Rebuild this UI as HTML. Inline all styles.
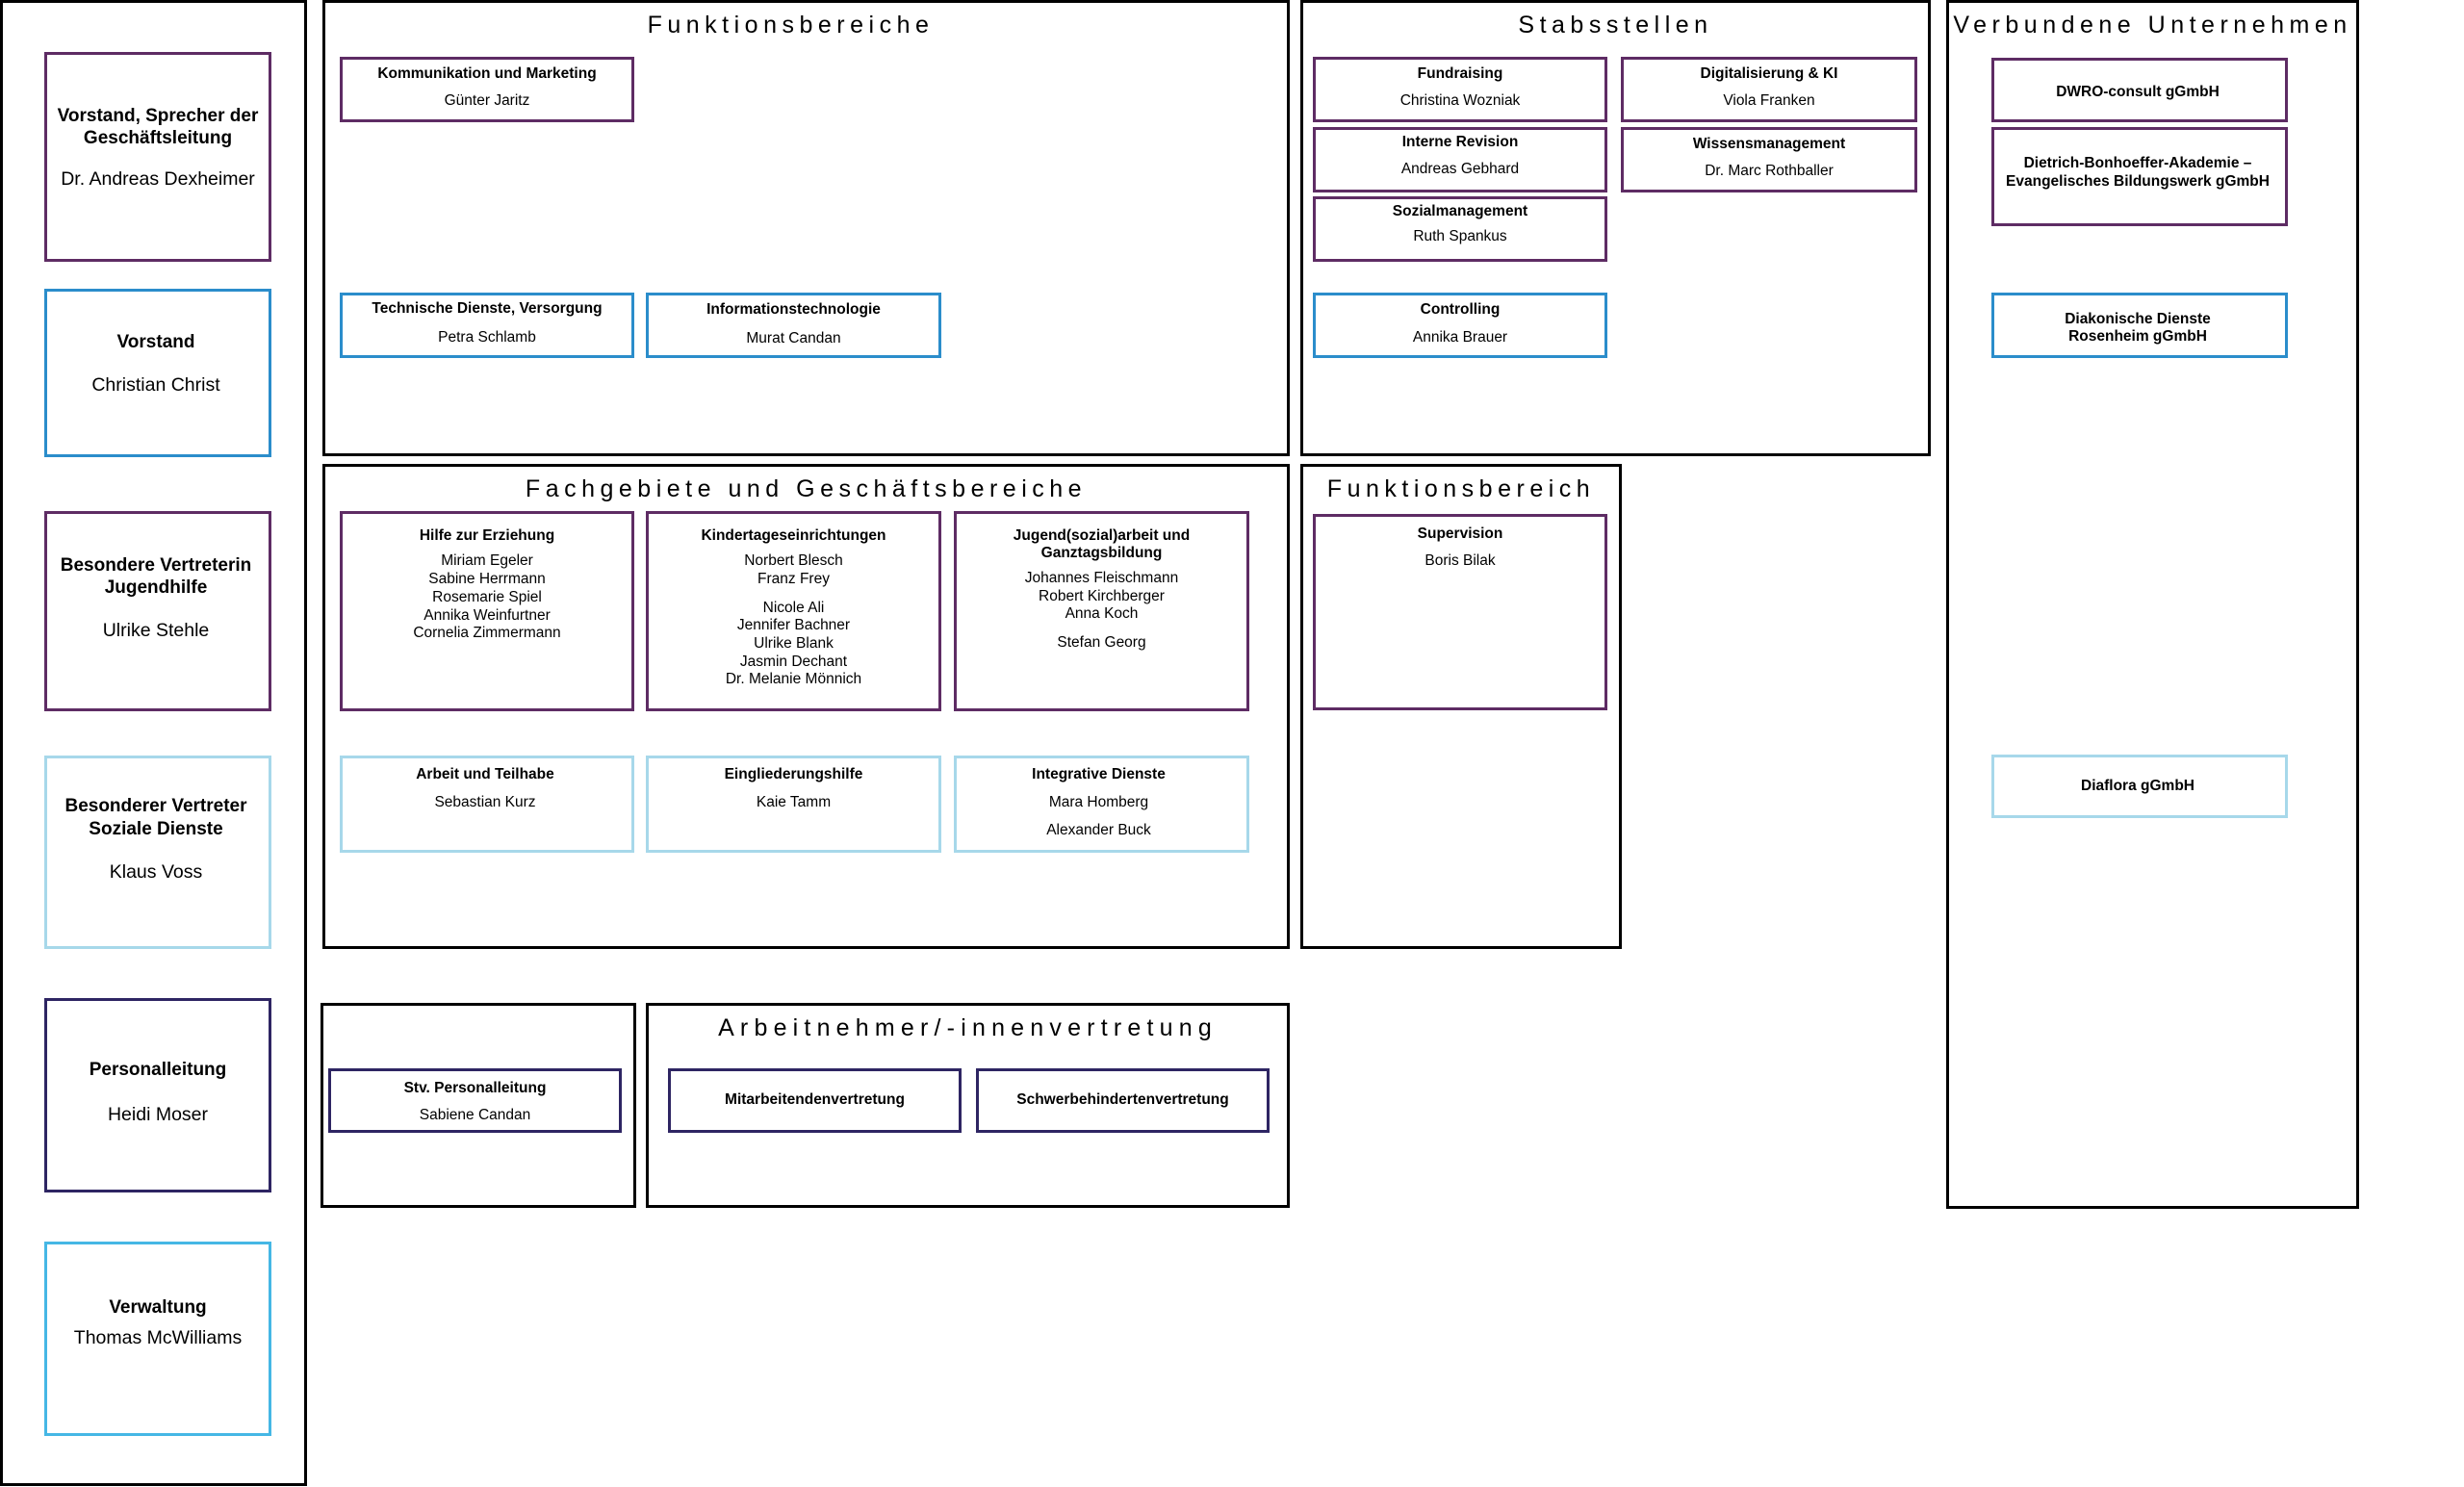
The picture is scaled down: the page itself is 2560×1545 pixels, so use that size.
<!DOCTYPE html>
<html><head><meta charset="utf-8"><style>
html,body{margin:0;padding:0;background:#fff;}
body{width:2560px;height:1545px;position:relative;overflow:hidden;font-family:"Liberation Sans",Arial,sans-serif;color:#000;}
.p{position:absolute;box-sizing:border-box;border:3px solid #000;}
.b{position:absolute;box-sizing:border-box;border:3px solid;}
.t{position:absolute;left:-10px;right:-10px;text-align:center;line-height:20px;height:20px;white-space:nowrap;font-size:15.5px;}
.h{font-weight:bold;font-size:15.5px;}
.pt{position:absolute;left:-20px;right:-20px;text-align:center;font-size:25px;letter-spacing:5.5px;line-height:30px;white-space:nowrap;}
.L{font-size:19.5px;line-height:24px;height:24px;}
.LH{font-size:19px;line-height:24px;height:24px;font-weight:bold;}
.pu{border-color:#5e2c64;}
.bl{border-color:#2b8dcb;}
.lb{border-color:#a7d8ea;}
.nv{border-color:#2e2563;}
.cy{border-color:#45b7e5;}
</style></head><body>

<!-- Left panel -->
<div class="p" style="left:0;top:0;width:319px;height:1544px;"></div>
<div class="b pu" style="left:46px;top:54px;width:236px;height:218px;">
 <div class="t LH" style="top:52px">Vorstand, Sprecher der</div>
 <div class="t LH" style="top:75px">Geschäftsleitung</div>
 <div class="t L" style="top:117px">Dr. Andreas Dexheimer</div>
</div>
<div class="b bl" style="left:46px;top:300px;width:236px;height:175px;">
 <div class="t LH" style="top:41px;left:-14px">Vorstand</div>
 <div class="t L" style="top:85px;left:-14px">Christian Christ</div>
</div>
<div class="b pu" style="left:46px;top:531px;width:236px;height:208px;">
 <div class="t LH" style="top:42px;left:-14px">Besondere Vertreterin</div>
 <div class="t LH" style="top:65px;left:-14px">Jugendhilfe</div>
 <div class="t L" style="top:109px;left:-14px">Ulrike Stehle</div>
</div>
<div class="b lb" style="left:46px;top:785px;width:236px;height:201px;">
 <div class="t LH" style="top:38px;left:-14px">Besonderer Vertreter</div>
 <div class="t LH" style="top:62px;left:-14px">Soziale Dienste</div>
 <div class="t L" style="top:106px;left:-14px">Klaus Voss</div>
</div>
<div class="b nv" style="left:46px;top:1037px;width:236px;height:202px;">
 <div class="t LH" style="top:60px">Personalleitung</div>
 <div class="t L" style="top:106px">Heidi Moser</div>
</div>
<div class="b cy" style="left:46px;top:1290px;width:236px;height:202px;">
 <div class="t LH" style="top:54px">Verwaltung</div>
 <div class="t L" style="top:85px">Thomas McWilliams</div>
</div>

<!-- Funktionsbereiche -->
<div class="p" style="left:335px;top:0;width:1005px;height:474px;">
 <div class="pt" style="top:8px;left:-52px">Funktionsbereiche</div>
</div>
<div class="b pu" style="left:353px;top:59px;width:306px;height:68px;">
 <div class="t h" style="top:5px">Kommunikation und Marketing</div>
 <div class="t" style="top:33px">Günter Jaritz</div>
</div>
<div class="b bl" style="left:353px;top:304px;width:306px;height:68px;">
 <div class="t h" style="top:4px">Technische Dienste, Versorgung</div>
 <div class="t" style="top:34px">Petra Schlamb</div>
</div>
<div class="b bl" style="left:671px;top:304px;width:307px;height:68px;">
 <div class="t h" style="top:5px">Informationstechnologie</div>
 <div class="t" style="top:35px">Murat Candan</div>
</div>

<!-- Stabsstellen -->
<div class="p" style="left:1351px;top:0;width:655px;height:474px;">
 <div class="pt" style="top:8px">Stabsstellen</div>
</div>
<div class="b pu" style="left:1364px;top:59px;width:306px;height:68px;">
 <div class="t h" style="top:5px">Fundraising</div>
 <div class="t" style="top:33px">Christina Wozniak</div>
</div>
<div class="b pu" style="left:1684px;top:59px;width:308px;height:68px;">
 <div class="t h" style="top:5px">Digitalisierung &amp; KI</div>
 <div class="t" style="top:33px">Viola Franken</div>
</div>
<div class="b pu" style="left:1364px;top:132px;width:306px;height:68px;">
 <div class="t h" style="top:3px">Interne Revision</div>
 <div class="t" style="top:31px">Andreas Gebhard</div>
</div>
<div class="b pu" style="left:1684px;top:132px;width:308px;height:68px;">
 <div class="t h" style="top:5px">Wissensmanagement</div>
 <div class="t" style="top:33px">Dr. Marc Rothballer</div>
</div>
<div class="b pu" style="left:1364px;top:204px;width:306px;height:68px;">
 <div class="t h" style="top:3px">Sozialmanagement</div>
 <div class="t" style="top:29px">Ruth Spankus</div>
</div>
<div class="b bl" style="left:1364px;top:304px;width:306px;height:68px;">
 <div class="t h" style="top:5px">Controlling</div>
 <div class="t" style="top:34px">Annika Brauer</div>
</div>

<!-- Verbundene Unternehmen -->
<div class="p" style="left:2022px;top:0;width:429px;height:1256px;">
 <div class="pt" style="top:8px">Verbundene Unternehmen</div>
</div>
<div class="b pu" style="left:2069px;top:60px;width:308px;height:67px;">
 <div class="t h" style="top:23px;left:-14px">DWRO-consult gGmbH</div>
</div>
<div class="b pu" style="left:2069px;top:132px;width:308px;height:103px;">
 <div class="t h" style="top:25px;left:-14px">Dietrich-Bonhoeffer-Akademie –</div>
 <div class="t h" style="top:44px;left:-14px">Evangelisches Bildungswerk gGmbH</div>
</div>
<div class="b bl" style="left:2069px;top:304px;width:308px;height:68px;">
 <div class="t h" style="top:15px;left:-14px">Diakonische Dienste</div>
 <div class="t h" style="top:33px;left:-14px">Rosenheim gGmbH</div>
</div>
<div class="b lb" style="left:2069px;top:784px;width:308px;height:66px;">
 <div class="t h" style="top:20px;left:-14px">Diaflora gGmbH</div>
</div>

<!-- Fachgebiete -->
<div class="p" style="left:335px;top:482px;width:1005px;height:504px;">
 <div class="pt" style="top:8px">Fachgebiete und Geschäftsbereiche</div>
</div>
<div class="b pu" style="left:353px;top:531px;width:306px;height:208px;">
 <div class="t h" style="top:13px">Hilfe zur Erziehung</div>
 <div class="t" style="top:39px">Miriam Egeler</div>
 <div class="t" style="top:58px">Sabine Herrmann</div>
 <div class="t" style="top:77px">Rosemarie Spiel</div>
 <div class="t" style="top:96px">Annika Weinfurtner</div>
 <div class="t" style="top:114px">Cornelia Zimmermann</div>
</div>
<div class="b pu" style="left:671px;top:531px;width:307px;height:208px;">
 <div class="t h" style="top:13px">Kindertageseinrichtungen</div>
 <div class="t" style="top:39px">Norbert Blesch</div>
 <div class="t" style="top:58px">Franz Frey</div>
 <div class="t" style="top:88px">Nicole Ali</div>
 <div class="t" style="top:106px">Jennifer Bachner</div>
 <div class="t" style="top:125px">Ulrike Blank</div>
 <div class="t" style="top:144px">Jasmin Dechant</div>
 <div class="t" style="top:162px">Dr. Melanie Mönnich</div>
</div>
<div class="b pu" style="left:991px;top:531px;width:307px;height:208px;">
 <div class="t h" style="top:13px">Jugend(sozial)arbeit und</div>
 <div class="t h" style="top:31px">Ganztagsbildung</div>
 <div class="t" style="top:57px">Johannes Fleischmann</div>
 <div class="t" style="top:76px">Robert Kirchberger</div>
 <div class="t" style="top:94px">Anna Koch</div>
 <div class="t" style="top:124px">Stefan Georg</div>
</div>
<div class="b lb" style="left:353px;top:785px;width:306px;height:101px;">
 <div class="t h" style="top:7px;left:-14px">Arbeit und Teilhabe</div>
 <div class="t" style="top:36px;left:-14px">Sebastian Kurz</div>
</div>
<div class="b lb" style="left:671px;top:785px;width:307px;height:101px;">
 <div class="t h" style="top:7px">Eingliederungshilfe</div>
 <div class="t" style="top:36px">Kaie Tamm</div>
</div>
<div class="b lb" style="left:991px;top:785px;width:307px;height:101px;">
 <div class="t h" style="top:7px;left:-16px">Integrative Dienste</div>
 <div class="t" style="top:36px;left:-16px">Mara Homberg</div>
 <div class="t" style="top:65px;left:-16px">Alexander Buck</div>
</div>

<!-- Funktionsbereich -->
<div class="p" style="left:1351px;top:482px;width:334px;height:504px;">
 <div class="pt" style="top:8px">Funktionsbereich</div>
</div>
<div class="b pu" style="left:1364px;top:534px;width:306px;height:204px;">
 <div class="t h" style="top:8px">Supervision</div>
 <div class="t" style="top:36px">Boris Bilak</div>
</div>

<!-- Bottom -->
<div class="p" style="left:333px;top:1042px;width:328px;height:213px;"></div>
<div class="b nv" style="left:341px;top:1110px;width:305px;height:67px;">
 <div class="t h" style="top:8px">Stv. Personalleitung</div>
 <div class="t" style="top:36px">Sabiene Candan</div>
</div>
<div class="p" style="left:671px;top:1042px;width:669px;height:213px;">
 <div class="pt" style="top:8px;letter-spacing:6.2px">Arbeitnehmer/-innenvertretung</div>
</div>
<div class="b nv" style="left:694px;top:1110px;width:305px;height:67px;">
 <div class="t h" style="top:20px">Mitarbeitendenvertretung</div>
</div>
<div class="b nv" style="left:1014px;top:1110px;width:305px;height:67px;">
 <div class="t h" style="top:20px">Schwerbehindertenvertretung</div>
</div>

</body></html>
